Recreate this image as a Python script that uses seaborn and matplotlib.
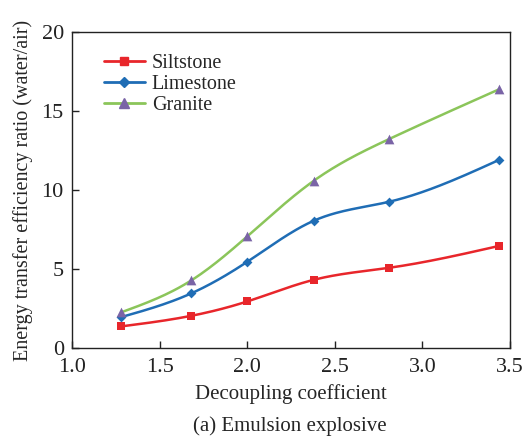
import numpy as np
import pandas as pd
import matplotlib
matplotlib.use("Agg")
import matplotlib.pyplot as plt
import seaborn as sns
from matplotlib.lines import Line2D

# Data
coef = [1.28, 1.68, 2.00, 2.38, 2.81, 3.44]
siltstone = [1.37, 2.04, 2.95, 4.32, 5.08, 6.47]
limestone = [1.96, 3.46, 5.46, 8.06, 9.26, 11.92]
granite = [2.26, 4.28, 7.07, 10.59, 13.23, 16.39]
series_names = ["Siltstone", "Limestone", "Granite"]

sns.set_theme(style="white")
plt.rcParams["font.family"] = ["Liberation Serif", "DejaVu Serif"]
plt.rcParams["mathtext.fontset"] = "stix"


def natural_spline(x, y, n=200):
    x = np.asarray(x, float); y = np.asarray(y, float)
    k = len(x); h = np.diff(x)
    A = np.zeros((k, k)); b = np.zeros(k)
    A[0, 0] = 1; A[-1, -1] = 1
    for i in range(1, k - 1):
        A[i, i - 1] = h[i - 1]; A[i, i] = 2 * (h[i - 1] + h[i]); A[i, i + 1] = h[i]
        b[i] = 6 * ((y[i + 1] - y[i]) / h[i] - (y[i] - y[i - 1]) / h[i - 1])
    M = np.linalg.solve(A, b)
    xs = np.linspace(x[0], x[-1], n)
    idx = np.clip(np.searchsorted(x, xs) - 1, 0, k - 2)
    x0, x1 = x[idx], x[idx + 1]; hh = x1 - x0
    ys = (M[idx] * (x1 - xs) ** 3 / (6 * hh) + M[idx + 1] * (xs - x0) ** 3 / (6 * hh)
          + (y[idx] / hh - M[idx] * hh / 6) * (x1 - xs)
          + (y[idx + 1] / hh - M[idx + 1] * hh / 6) * (xs - x0))
    return xs, ys


fig = plt.figure(figsize=(5.23, 4.40), dpi=100)
ax = fig.add_axes([0.138, 0.209, 0.837, 0.718])

styles = {
    "Siltstone": dict(line="#e8262b", marker="s", mfc="#e8262b", ms=6),
    "Limestone": dict(line="#1f6db5", marker="D", mfc="#1f6db5", ms=5),
    "Granite": dict(line="#8bc55a", marker="^", mfc="#7a64a6", ms=7),
}
values = {"Siltstone": siltstone, "Limestone": limestone, "Granite": granite}

handles = []
for name in series_names:
    st = styles[name]
    xs, ys = natural_spline(coef, values[name])
    sns.lineplot(x=xs, y=ys, color=st["line"], linewidth=1.8, ax=ax, legend=False)
    df = pd.DataFrame({"x": coef, "y": values[name]})
    sns.scatterplot(data=df, x="x", y="y", marker=st["marker"], color=st["mfc"],
                    s=st["ms"] ** 2, linewidth=0, ax=ax, legend=False, zorder=3)
    handles.append(Line2D([0], [0], color=st["line"], linewidth=2, marker=st["marker"],
                          markerfacecolor=st["mfc"], markeredgecolor=st["mfc"],
                          markersize=st["ms"]))

ax.set_xlim(1.0, 3.5)
ax.set_ylim(0, 20)
ax.set_xticks([1.0, 1.5, 2.0, 2.5, 3.0, 3.5])
ax.set_xticklabels(["1.0", "1.5", "2.0", "2.5", "3.0", "3.5"])
ax.set_yticks([0, 5, 10, 15, 20])
ax.tick_params(axis="both", direction="in", length=5, width=1, labelsize=16,
               bottom=True, left=True, top=False, right=False, colors="#222222")
ax.tick_params(axis="x", pad=7)
ax.tick_params(axis="y", pad=6)
for sp in ax.spines.values():
    sp.set_color("#222222"); sp.set_linewidth(1.0)

ax.set_xlabel("Decoupling coefficient", fontsize=15, labelpad=5)
ax.set_ylabel("Energy transfer efficiency ratio (water/air)", fontsize=14.5, labelpad=6)

ax.legend(handles, series_names, loc="upper left", bbox_to_anchor=(0.055, 0.955),
          frameon=False, fontsize=14.5, handlelength=2.0, handletextpad=0.35,
          labelspacing=0.08, borderaxespad=0)

fig.text(0.555, 0.02, "(a) Emulsion explosive", ha="center", fontsize=15)

fig.savefig("out.png", dpi=100)
